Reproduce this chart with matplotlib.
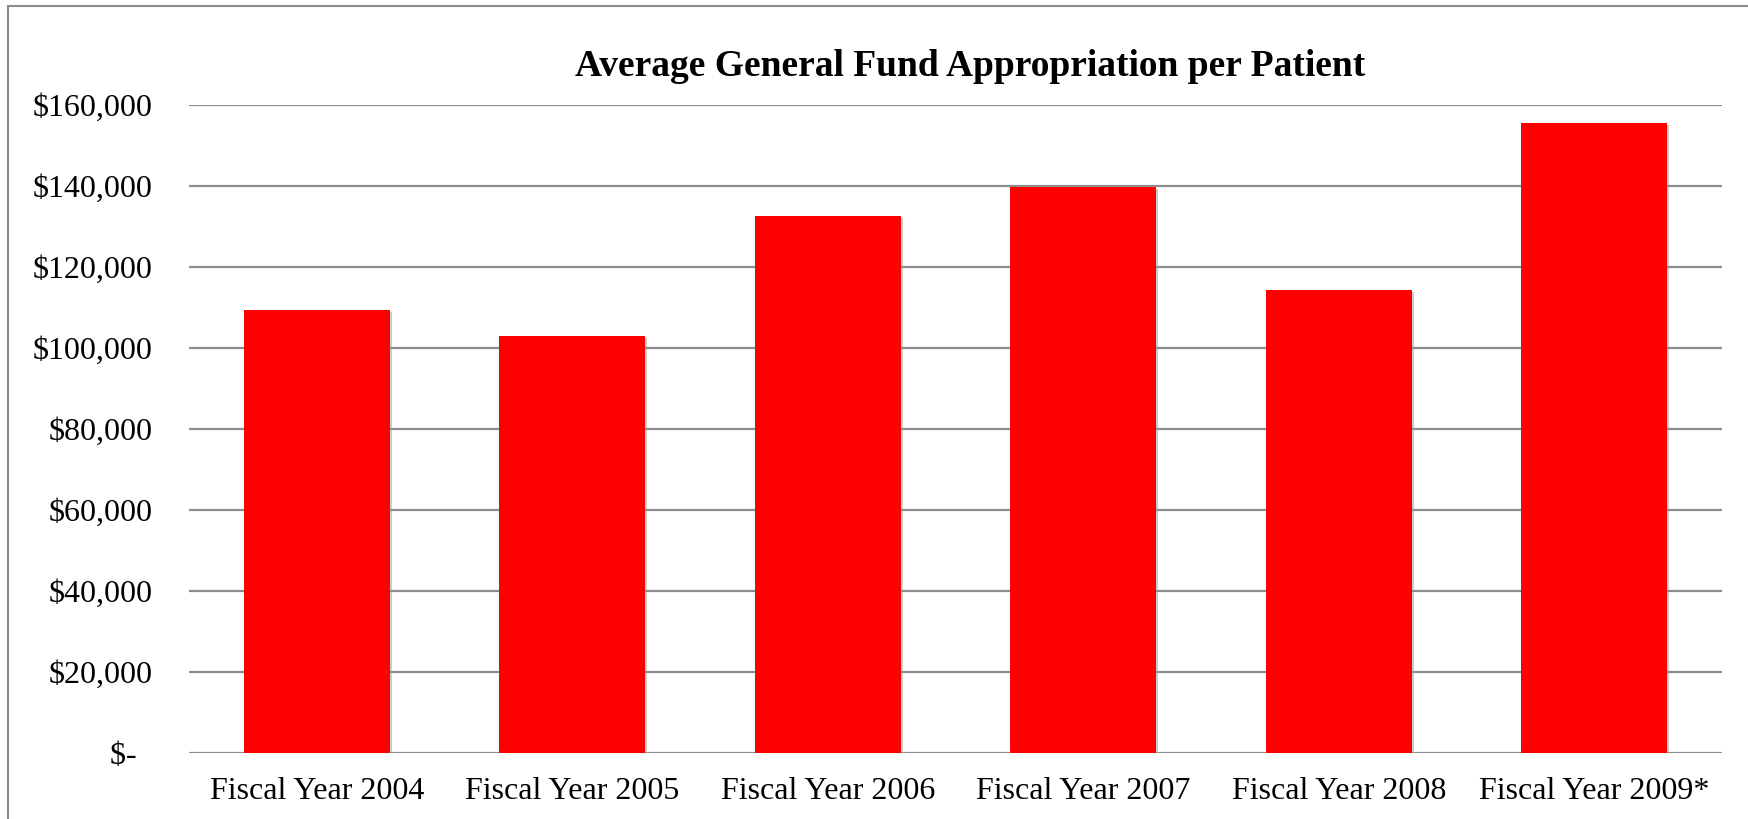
import matplotlib
matplotlib.use("Agg")
import matplotlib.pyplot as plt
import matplotlib.patheffects as pe
from matplotlib.patches import Rectangle
from matplotlib.ticker import FuncFormatter

plt.rcParams['font.family'] = ['Liberation Serif', 'DejaVu Serif']

# data
years = ['Fiscal Year 2004', 'Fiscal Year 2005', 'Fiscal Year 2006',
         'Fiscal Year 2007', 'Fiscal Year 2008', 'Fiscal Year 2009*']
avg_approp = [109400, 103000, 132700, 139700, 114400, 155500]
y_ticks = [0, 20000, 40000, 60000, 80000, 100000, 120000, 140000, 160000]

W, H = 1749, 819
fig = plt.figure(figsize=(W / 100, H / 100), dpi=100)

# outer chart border (runs off the right and bottom edges)
fig.patches.append(Rectangle((8 / W, -0.05), 1.2, 1 - 6 / H + 0.05,
                             transform=fig.transFigure, fill=False,
                             edgecolor='#8c8c8c', linewidth=1.5))

left, right, top, bottom = 189, 1722, 105, 753.3
ax = fig.add_axes([left / W, (H - bottom) / H, (right - left) / W, (bottom - top) / H])

x = range(len(years))
bars = ax.bar(x, avg_approp, width=0.57, color='#ff0000', zorder=3)
for b in bars:
    b.set_path_effects([pe.SimplePatchShadow(offset=(1.5, -1.5), shadow_rgbFace='#999999', alpha=0.5),
                        pe.Normal()])

ax.set_xlim(-0.5, len(years) - 0.5)
ax.set_ylim(0, 160000)
ax.set_yticks(y_ticks)

def money(v, pos):
    # accounting style: zero shown as a dash, padded like excel does
    if v == 0:
        return '$-  '
    return '${:,.0f}'.format(v)

ax.yaxis.set_major_formatter(FuncFormatter(money))
ax.set_xticks(list(x))
ax.set_xticklabels(years)

ax.grid(axis='y', color='#8c8c8c', linewidth=1.6, zorder=0)
ax.set_axisbelow(True)
for s in ax.spines.values():
    s.set_visible(False)
ax.tick_params(axis='both', length=0, labelsize=23)
ax.tick_params(axis='y', pad=26)
ax.tick_params(axis='x', pad=17)

fig.text(970 / W, 1 - 67 / H, 'Average General Fund Appropriation per Patient',
         ha='center', va='center', fontsize=27, fontweight='bold')

fig.savefig('out.png', dpi=100)
